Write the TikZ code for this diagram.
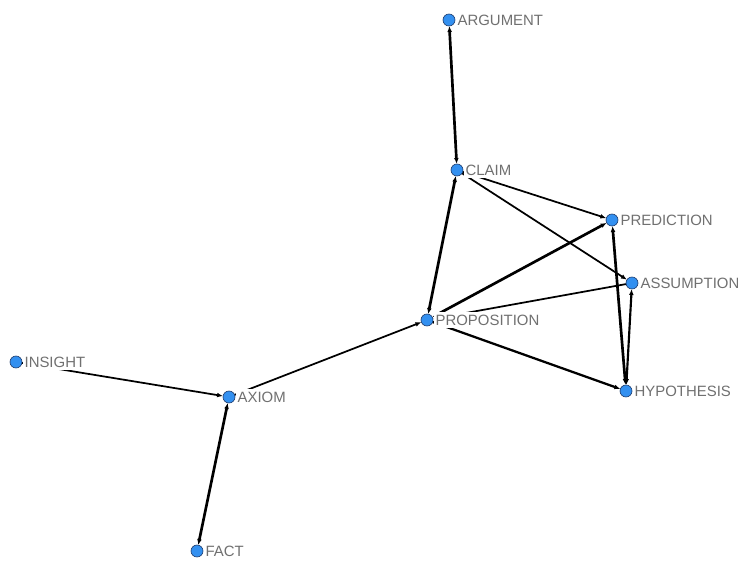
\documentclass[tikz,border=0pt]{standalone}
\usepackage{fontspec}
\setmainfont{Liberation Sans}
\usetikzlibrary{positioning,calc,arrows.meta}
\definecolor{dotblue}{RGB}{51,144,240}
\definecolor{dotrim}{RGB}{30,60,110}
\definecolor{labgray}{RGB}{112,112,112}
\begin{document}
\begin{tikzpicture}[
				x=0.75pt,y=-0.75pt,
				line cap=round,line join=round,
				vertex/.style={circle, fill=dotblue, draw=dotrim, line width=0.5pt, minimum size=9pt, inner sep=0pt},
				lab/.style={anchor=west, font=\fontsize{11.2}{13}\selectfont, text=labgray, fill=white, inner xsep=1pt, inner ysep=2pt},
				tie/.style={black, line width=1.3pt, -{Latex[length=4.5pt,width=3.6pt]}, shorten >=4.5pt},
				bitie/.style={black, line width=2pt, {Latex[length=4.5pt,width=3.6pt]}-{Latex[length=4.5pt,width=3.6pt]}, shorten >=4.5pt, shorten <=4.5pt}
				]
				% ---- frame
				\useasboundingbox (0,0) rectangle (738,567);
				
				% vertices
				\coordinate (argument) at (449,20);
				\coordinate (claim) at (457,170);
				\coordinate (prediction) at (612,220);
				\coordinate (assumption) at (632,283);
				\coordinate (proposition) at (427,320);
				\coordinate (hypothesis) at (626,391);
				\coordinate (insight) at (16,362);
				\coordinate (axiom) at (229,397);
				\coordinate (fact) at (197,551);
				
				% ties
				\draw[bitie] (claim) -- (argument);
				\draw[bitie] (proposition) -- (claim);
				\draw[bitie] (proposition) -- (prediction);
				\draw[bitie] (prediction) -- (hypothesis);
				\draw[bitie] (fact) -- (axiom);
				\draw[tie, line width=1.7pt] (proposition) -- (hypothesis);
				\draw[tie, line width=1.6pt, {Latex[length=4.5pt,width=3.6pt]}-{Latex[length=4.5pt,width=3.6pt]}, shorten <=4.5pt] (hypothesis) -- (assumption);
				\draw[tie] (claim) -- (prediction);
				\draw[tie] (claim) -- (assumption);
				\draw[tie] (assumption) -- (proposition);
				\draw[tie] (axiom) -- (proposition);
				\draw[tie] (insight) -- (axiom);
				
				% labels
				\foreach \v/\t in {argument/ARGUMENT, claim/CLAIM, prediction/PREDICTION,
					assumption/ASSUMPTION, proposition/PROPOSITION, hypothesis/HYPOTHESIS,
					insight/INSIGHT, axiom/AXIOM, fact/FACT}{
					\node[lab] (\v-lab) at ($(\v)+(7,0)$) {\t};
					\node[vertex] (\v-dot) at (\v) {};
				}
			\end{tikzpicture}
\end{document}
